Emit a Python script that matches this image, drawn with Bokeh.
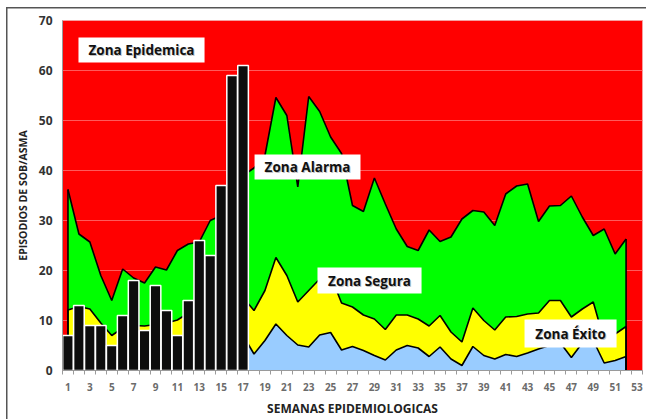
from bokeh.plotting import figure
from bokeh.models import FixedTicker, BoxAnnotation, Label, Range1d
from bokeh.embed import file_html
from bokeh.resources import INLINE

# ---------------- data ----------------
weeks = list(range(1, 53))
case_weeks = list(range(1, 18))
cases = [7, 13, 9, 9, 5, 11, 18, 8, 17, 12, 7, 14, 26, 23, 37, 59, 61]

# upper limit of "Zona Alarma" (percentile 75)
p75 = [36.2, 27.3, 25.7, 19, 14, 20.3, 18.5, 17.5, 20.7, 20.1,
       24, 25.3, 25.7, 30, 31, 35, 39, 40.5, 43, 54.6,
       51, 36.7, 54.8, 51.8, 46.7, 43.4, 33, 31.8, 38.5, 33.3,
       28.3, 24.8, 24, 28.1, 25.8, 26.7, 30.3, 32, 31.7, 29,
       35.3, 36.9, 37.3, 29.8, 32.9, 33, 34.9, 30.7, 27, 28.3,
       23.3, 26.3]
# upper limit of "Zona Segura" (median)
p50 = [12.1, 12.8, 12.3, 9.5, 7, 8.5, 9, 8.9, 9.2, 9.5,
       10.1, 11.5, 13, 13, 14, 14.5, 14.6, 12, 16, 22.6,
       19, 13.7, 16, 18.3, 19, 13.5, 12.7, 11.1, 10.3, 8.2,
       11.1, 11.1, 10.3, 8.9, 11, 7.7, 5.7, 12.5, 10, 8.1,
       10.7, 10.8, 11.3, 11.5, 14, 14, 10.7, 12.3, 13.7, 6,
       7.3, 8.8]
# upper limit of "Zona Exito" (percentile 25)
p25 = [4.5, 5, 5.5, 4.5, 3.5, 4.5, 5, 4.5, 5, 4.5,
       4.5, 5.5, 6, 6, 6.5, 7, 7, 3.3, 6, 9.3,
       7, 5.1, 4.7, 7.1, 7.6, 4.1, 4.8, 4, 3, 2.1,
       4.1, 5, 4.5, 2.8, 4.7, 2.3, 1, 4.8, 3, 2.3,
       3.2, 2.8, 3.5, 4.3, 5, 5.5, 2.6, 5.5, 6, 1.5,
       2, 2.8]

n_weeks = 53
x_label_ticks = list(range(1, n_weeks + 1, 2))
x_boundaries = [w - 0.5 for w in range(1, n_weeks + 2)]
y_ticks = [0, 10, 20, 30, 40, 50, 60, 70]

# ---------------- figure ----------------
p = figure(frame_width=580, frame_height=350,
           x_range=Range1d(0.5, n_weeks + 0.5), y_range=Range1d(0, 70),
           output_backend="svg", toolbar_location=None,
           min_border_left=62, min_border_top=20, min_border_right=4,
           min_border_bottom=10)
p.background_fill_color = "#ff0000"
p.border_fill_color = "white"
p.border_fill_alpha = 0
p.outline_line_color = "#f4a0a0"
p.outline_line_width = 1
# outer chart-area frame (top and left edges visible in the original)
p.styles = {"box-shadow": "inset 6px 7px 0 0 white, inset 7.5px 8.5px 0 0 #555555"}

zero = [0] * len(weeks)
p.varea(x=weeks, y1=zero, y2=p75, fill_color="#00ff00")
p.varea(x=weeks, y1=zero, y2=p50, fill_color="#ffff00")
p.varea(x=weeks, y1=zero, y2=p25, fill_color="#99ccff")
for top in (p75, p50, p25):
    p.line(x=weeks, y=top, line_color="black", line_width=1.6)
    p.segment(x0=[weeks[0], weeks[-1]], y0=[0, 0],
              x1=[weeks[0], weeks[-1]], y1=[top[0], top[-1]],
              line_color="black", line_width=1.6)

p.vbar(x=case_weeks, top=cases, width=0.97, fill_color="#0d0d0d",
       line_color="white", line_width=1.5)

# ---------------- axes ----------------
p.xgrid.visible = False
p.ygrid.grid_line_color = "#ff5a5a"
p.ygrid.grid_line_width = 1

p.yaxis.ticker = FixedTicker(ticks=y_ticks)
p.yaxis.major_tick_out = 0
p.yaxis.major_tick_in = 0
p.yaxis.minor_tick_out = 0
p.yaxis.minor_tick_in = 0
p.yaxis.axis_line_color = "#9a9a9a"
p.yaxis.major_label_text_font = "Open Sans"
p.yaxis.major_label_text_font_style = "bold"
p.yaxis.major_label_text_font_size = "12px"
p.yaxis.major_label_text_color = "#333333"
p.yaxis.major_label_standoff = 10
p.yaxis.axis_label = "EPISODIOS DE SOB/ASMA"
p.yaxis.axis_label_text_font = "Open Sans"
p.yaxis.axis_label_text_font_style = "bold"
p.yaxis.axis_label_text_font_size = "10.5px"
p.yaxis.axis_label_text_color = "#222222"
p.yaxis.axis_label_standoff = 6

p.xaxis.ticker = FixedTicker(ticks=x_label_ticks, minor_ticks=x_boundaries)
p.xaxis.major_tick_out = 0
p.xaxis.major_tick_in = 0
p.xaxis.minor_tick_out = 4
p.xaxis.minor_tick_in = 0
p.xaxis.minor_tick_line_color = "#9a9a9a"
p.xaxis.axis_line_color = "#9a9a9a"
p.xaxis.major_label_text_font = "Open Sans"
p.xaxis.major_label_text_font_style = "bold"
p.xaxis.major_label_text_font_size = "10px"
p.xaxis.major_label_text_color = "#6b6b6b"
p.xaxis.major_label_standoff = 8
p.xaxis.axis_label = "SEMANAS EPIDEMIOLOGICAS"
p.xaxis.axis_label_text_font = "Open Sans"
p.xaxis.axis_label_text_font_style = "bold"
p.xaxis.axis_label_text_font_size = "12px"
p.xaxis.axis_label_text_color = "#222222"
p.xaxis.axis_label_standoff = 6

# ---------------- zone labels ----------------
zones = [
    ("Zona Epidemica", 1.96, 13.48, 66.6, 61.6),
    ("Zona Alarma", 18.05, 27.73, 43.2, 38.2),
    ("Zona Segura", 23.80, 33.31, 20.6, 15.4),
    ("Zona Éxito", 42.72, 51.13, 10.2, 4.6),
]
for txt, l, r, t, b in zones:
    p.add_layout(BoxAnnotation(left=l, right=r, top=t, bottom=b,
                               fill_color="white", fill_alpha=1,
                               line_color=None))
    cx, cy = (l + r) / 2, (t + b) / 2
    p.add_layout(Label(x=cx, y=cy, text=txt, x_offset=1, y_offset=-1,
                       text_align="center", text_baseline="middle",
                       text_font="Open Sans", text_font_style="bold",
                       text_font_size="13.5px", text_color="#9a9a9a",
                       text_alpha=0.6))
    p.add_layout(Label(x=cx, y=cy, text=txt,
                       text_align="center", text_baseline="middle",
                       text_font="Open Sans", text_font_style="bold",
                       text_font_size="13.5px", text_color="#111111"))

open("out.html", "w").write(file_html(p, INLINE))
